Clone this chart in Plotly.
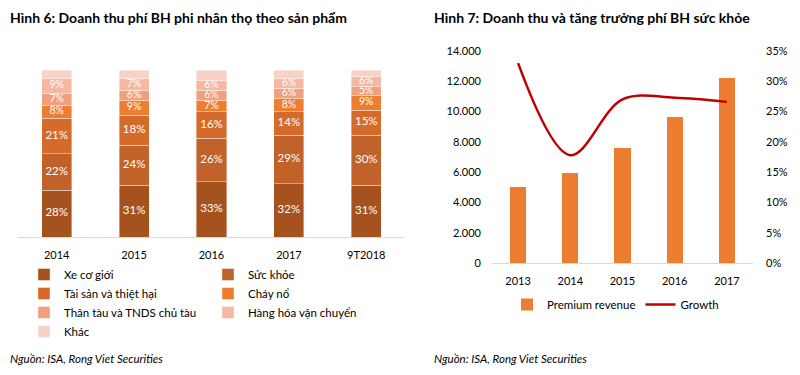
import plotly.graph_objects as go

# ---- Left chart data (Hình 6) ----
years6 = ["2014", "2015", "2016", "2017", "9T2018"]
series6 = ["Xe cơ giới", "Sức khỏe", "Tài sản và thiệt hại", "Cháy nổ",
           "Thân tàu và TNDS chủ tàu", "Hàng hóa vận chuyển", "Khác"]
xe_co_gioi = [28, 31, 33, 32, 31]
suc_khoe = [22, 24, 26, 29, 30]
tai_san = [21, 18, 16, 14, 15]
chay_no = [8, 9, 7, 8, 9]
than_tau = [7, 6, 6, 6, 5]
hang_hoa = [9, 7, 6, 6, 6]
khac = [5, 5, 6, 5, 4]
colors6 = ["#A5521F", "#C0622A", "#D46B2B", "#ED7D31", "#F0A07E", "#F5B8A3", "#F9D2C6"]
show_text = [True, True, True, True, True, True, False]
legend_of = ["legend", "legend2", "legend", "legend2", "legend", "legend2", "legend"]

# ---- Right chart data (Hình 7) ----
years7 = ["2013", "2014", "2015", "2016", "2017"]
premium_revenue = [5040, 5960, 7570, 9640, 12220]
growth = [0.33, 0.178, 0.27, 0.273, 0.266]

FONT = "Lato"
fig = go.Figure()

all6 = [xe_co_gioi, suc_khoe, tai_san, chay_no, than_tau, hang_hoa, khac]
for name, vals, col, lg in zip(series6, all6, colors6, legend_of):
    fig.add_trace(go.Bar(
        x=years6, y=vals, name=name,
        marker=dict(color=col, line=dict(color="rgba(255,255,255,0.5)", width=0.8)),
        textposition="none", width=0.39, xaxis="x", yaxis="y", legend=lg, hoverinfo="skip",
    ))

# segment labels at the middle of each stacked segment (derived from the data)
base = [0] * len(years6)
for vals, st in zip(all6, show_text):
    mids = [b + v / 2 for b, v in zip(base, vals)]
    if st:
        fig.add_trace(go.Scatter(
            x=years6, y=mids, mode="text", text=[f"{v}%" for v in vals],
            textfont=dict(color="white", size=10.5 if max(vals) < 10 else 11.5, family=FONT),
            showlegend=False, hoverinfo="skip", xaxis="x", yaxis="y",
        ))
    base = [b + v for b, v in zip(base, vals)]

fig.add_trace(go.Bar(
    x=years7, y=premium_revenue, name="Premium revenue",
    marker=dict(color="#ED7D31", line=dict(width=0)), width=0.31,
    xaxis="x2", yaxis="y2", legend="legend3",
))
fig.add_trace(go.Scatter(
    x=years7, y=growth, name="Growth", mode="lines",
    line=dict(color="#C00000", width=2.5, shape="spline", smoothing=1.0),
    xaxis="x2", yaxis="y3", legend="legend3",
))

# page has an 8px body margin; map page pixel coords to paper coords
OFF = 8
W, H = 792, 367
def px(x): return (x - OFF) / W
def py(y): return 1 - (y - OFF) / H

fig.update_layout(
    width=W, height=H, margin=dict(l=0, r=0, t=0, b=0, autoexpand=False),
    paper_bgcolor="white", plot_bgcolor="white",
    barmode="stack", separators=",.",
    font=dict(family=FONT, size=11, color="#000000"),
    showlegend=True,
    xaxis=dict(domain=[px(18), px(405)], showgrid=False, showline=True, linecolor="#D9D9D9",
               linewidth=1, ticks="", tickfont=dict(size=11), anchor="y", automargin=False,
               ticklabelstandoff=8),
    yaxis=dict(domain=[py(237), py(70)], range=[0, 100], visible=False, anchor="x"),
    xaxis2=dict(domain=[px(492), px(753)], showgrid=False, showline=True, linecolor="#D9D9D9",
                linewidth=1, ticks="", tickfont=dict(size=11), anchor="y2", automargin=False,
                ticklabelstandoff=8),
    yaxis2=dict(domain=[py(263), py(51)], range=[0, 14000], dtick=2000, showgrid=False,
                showline=False, tickformat=",d", tickfont=dict(size=11), anchor="x2",
                ticklabelstandoff=10, automargin=False),
    yaxis3=dict(domain=[py(263), py(51)], range=[0, 0.35], dtick=0.05, overlaying="y2",
                side="right", showgrid=False, showline=False, tickformat=".0%",
                tickfont=dict(size=11), anchor="x2", ticklabelstandoff=12, automargin=False),
    legend=dict(x=px(24), y=py(260), xanchor="left", yanchor="top", orientation="v",
                traceorder="normal", font=dict(size=11.5), tracegroupgap=0, itemwidth=30,
                bgcolor="rgba(0,0,0,0)"),
    legend2=dict(x=px(208), y=py(260), xanchor="left", yanchor="top", orientation="v",
                 traceorder="normal", font=dict(size=11.5), tracegroupgap=0, itemwidth=30,
                 bgcolor="rgba(0,0,0,0)"),
    legend3=dict(x=px(507), y=py(290), xanchor="left", yanchor="top", orientation="h",
                 traceorder="normal", font=dict(size=11.5), bgcolor="rgba(0,0,0,0)"),
    annotations=[
        dict(text="<b>Hình 6: Doanh thu phí BH phi nhân thọ theo sản phẩm</b>", x=px(8), y=py(17),
             xref="paper", yref="paper", xanchor="left", yanchor="middle", showarrow=False,
             font=dict(size=14, family=FONT)),
        dict(text="<b>Hình 7: Doanh thu và tăng trưởng phí BH sức khỏe</b>", x=px(432), y=py(17),
             xref="paper", yref="paper", xanchor="left", yanchor="middle", showarrow=False,
             font=dict(size=14, family=FONT)),
        dict(text="<i>Nguồn: ISA, Rong Viet Securities</i>", x=px(8), y=py(358),
             xref="paper", yref="paper", xanchor="left", yanchor="middle", showarrow=False,
             font=dict(size=11.5, family=FONT)),
        dict(text="<i>Nguồn: ISA, Rong Viet Securities</i>", x=px(432), y=py(358),
             xref="paper", yref="paper", xanchor="left", yanchor="middle", showarrow=False,
             font=dict(size=11.5, family=FONT)),
    ],
)

fig.write_html("out.html")
